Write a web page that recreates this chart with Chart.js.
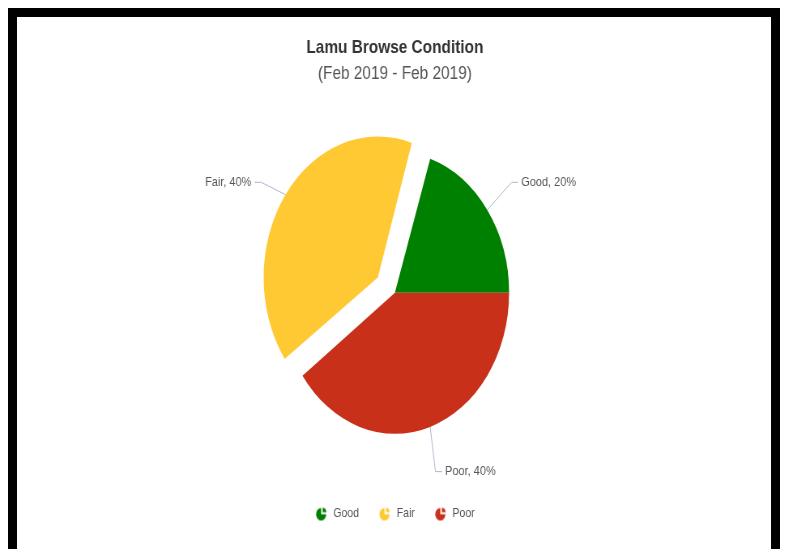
<!DOCTYPE html>
<html>
<head>
<meta charset="utf-8">
<title>Lamu Browse Condition</title>
<script src="https://cdn.jsdelivr.net/npm/chart.js@4"></script>
<style>
  html, body { margin: 0; padding: 0; background: #fff; width: 785px; height: 549px; overflow: hidden; }
  /* the chart is laid out wide and squeezed horizontally */
  #stage { position: absolute; left: 0; top: 0; width: 969px; height: 549px; transform: scaleX(0.81); transform-origin: 0 0; }
  #frame { position: absolute; left: 8px; top: 8px; width: 772px; height: 560px; box-sizing: border-box;
           border: 9px solid #000; border-bottom: none; pointer-events: none; }
</style>
</head>
<body>
<div id="stage"><canvas id="chart" width="969" height="549"></canvas></div>
<div id="frame"></div>
<script>
// Slices in clockwise drawing order
const categories = ['Good', 'Poor', 'Fair'];
const shares = [20, 40, 40];
// Order of the legend entries
const legendOrder = ['Good', 'Fair', 'Poor'];
const explodedCategory = 'Fair';

const sliceColors = { Good: '#008000', Fair: '#ffc933', Poor: '#c9301a' };
const colors = categories.map(c => sliceColors[c]);

const EXPLODE_SHIFT = 26;     // px the exploded slice is pushed out
const LABEL_DISTANCE = 47;    // label anchor distance beyond the rim
const CONNECTOR_TAIL = 8;     // horizontal leg of a label connector
const LABEL_GAP = 4;

Chart.defaults.font.family = '"Liberation Sans", Arial, Helvetica, sans-serif';

// Small pie symbol used as the legend marker
function pieIcon(color) {
  const c = document.createElement('canvas');
  c.width = 16; c.height = 16;
  const g = c.getContext('2d');
  g.fillStyle = color;
  g.beginPath(); g.moveTo(7.5, 8.8); g.arc(7.5, 8.8, 6.3, 0, 1.5 * Math.PI); g.closePath(); g.fill();
  g.beginPath(); g.moveTo(9.4, 6.8); g.arc(9.4, 6.8, 4.6, 1.5 * Math.PI, 2 * Math.PI); g.closePath(); g.fill();
  return c;
}
const icons = colors.map(pieIcon);

// An exploded arc is drawn slightly larger by Chart.js; bring it back to the common radius
const keepExplodedRadius = {
  id: 'keepExplodedRadius',
  afterDatasetUpdate(chart, args) {
    args.meta.data.forEach(arc => {
      const shift = (arc.options.offset || 0) / 4;
      arc.outerRadius -= shift * (1 - Math.sin(Math.min(Math.PI, arc.circumference)));
    });
  }
};

// "Name, value%" labels with bent connector lines
const sliceLabels = {
  id: 'sliceLabels',
  afterDatasetsDraw(chart) {
    const { ctx } = chart;
    const meta = chart.getDatasetMeta(0);
    const values = chart.data.datasets[0].data;
    const total = values.reduce((a, b) => a + b, 0);
    ctx.save();
    ctx.font = '13.5px "Liberation Sans", Arial, sans-serif';
    ctx.textBaseline = 'middle';
    meta.data.forEach((arc, i) => {
      if (!chart.getDataVisibility(i)) return;
      const mid = (arc.startAngle + arc.endAngle) / 2;
      const shift = (arc.options.offset || 0) / 4;
      const r = arc.outerRadius + shift * (1 - Math.sin(Math.min(Math.PI, arc.circumference)));
      const cx = arc.x + Math.cos(mid) * shift;
      const cy = arc.y + Math.sin(mid) * shift;
      // point on the rim in the middle of the slice
      const px = cx + Math.cos(mid) * r, py = cy + Math.sin(mid) * r;
      // label anchor: rows follow the pie centre, columns follow the slice
      const side = Math.cos(mid) >= 0 ? 1 : -1;
      const ax = cx + Math.cos(mid) * (r + LABEL_DISTANCE);
      const ay = arc.y + Math.sin(mid) * (r + LABEL_DISTANCE);
      const bx = ax - side * CONNECTOR_TAIL;
      ctx.strokeStyle = '#a9b7cc';
      ctx.lineWidth = 1;
      ctx.beginPath(); ctx.moveTo(px, py); ctx.lineTo(bx, ay); ctx.lineTo(ax, ay); ctx.stroke();
      ctx.fillStyle = '#555555';
      ctx.textAlign = side > 0 ? 'left' : 'right';
      const pct = Math.round(values[i] / total * 100);
      ctx.fillText(`${chart.data.labels[i]}, ${pct}%`, ax + side * LABEL_GAP, ay);
    });
    ctx.restore();
  }
};

const explode = ctx => (categories[ctx.dataIndex] === explodedCategory ? EXPLODE_SHIFT * 4 : 0);

new Chart(document.getElementById('chart'), {
  type: 'pie',
  data: {
    labels: categories,
    datasets: [{
      data: shares,
      backgroundColor: colors,
      borderWidth: 0,
      offset: explode,
      hoverOffset: explode,
      radius: 141,
      clip: false
    }]
  },
  options: {
    responsive: false,
    animation: false,
    rotation: 18,
    layout: { padding: { left: 6, right: 0, top: 0, bottom: 19 } },
    plugins: {
      title: {
        display: true,
        text: 'Lamu Browse Condition',
        color: '#333333',
        font: { size: 19, weight: 'bold' },
        padding: { top: 36, bottom: 3 }
      },
      subtitle: {
        display: true,
        text: '(Feb 2019 - Feb 2019)',
        color: '#555555',
        font: { size: 19, weight: 'normal' },
        padding: { top: 1, bottom: 17 }
      },
      legend: {
        position: 'bottom',
        labels: {
          usePointStyle: true,
          pointStyleWidth: 16,
          padding: 24,
          color: '#555555',
          font: { size: 13 },
          sort: (a, b) => legendOrder.indexOf(a.text) - legendOrder.indexOf(b.text),
          generateLabels: chart => chart.data.labels.map((label, i) => ({
            text: label,
            fillStyle: colors[i],
            strokeStyle: colors[i],
            lineWidth: 0,
            pointStyle: icons[i],
            fontColor: '#555555',
            hidden: !chart.getDataVisibility(i),
            index: i
          }))
        },
        onClick: (e, item, legend) => {
          legend.chart.toggleDataVisibility(item.index);
          legend.chart.update();
        }
      }
    }
  },
  plugins: [keepExplodedRadius, sliceLabels]
});
</script>
</body>
</html>
